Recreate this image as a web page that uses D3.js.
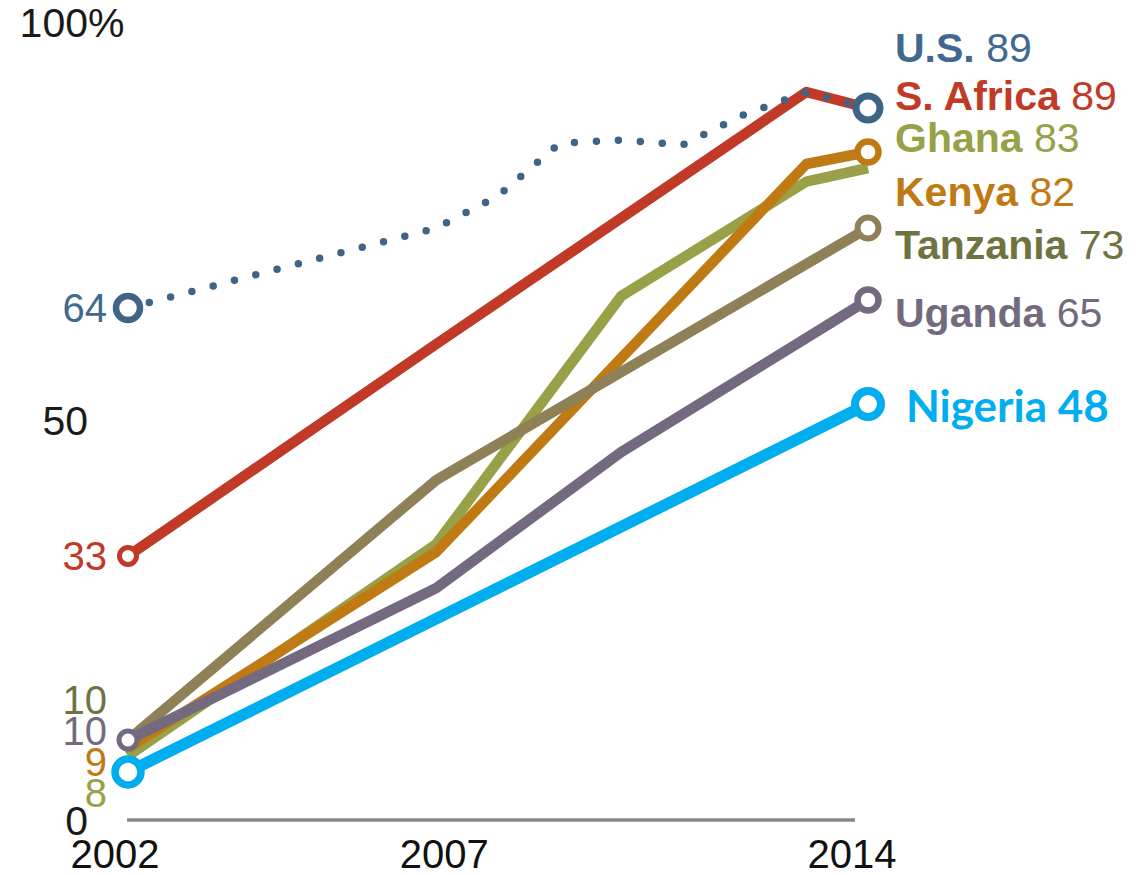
<!DOCTYPE html>
<html><head><meta charset="utf-8">
<script src="https://cdn.jsdelivr.net/npm/d3@7"></script>
<style>html,body{margin:0;padding:0;background:#fff;} svg{display:block}</style>
</head><body>
<svg id="chart" width="1142" height="875"></svg>
<script>
// ---- data ----
const years = [2002, 2007, 2008, 2009, 2010, 2011, 2012, 2013, 2014];
const countries = ["S. Africa", "Ghana", "Kenya", "Tanzania", "Uganda", "U.S.", "Nigeria"];
const southAfricaValues = [33, 59.5, null, null, null, null, null, 91, 89];
const ghanaValues       = [8, 34.5, null, null, 65.5, null, null, 79.8, 81.5];
const kenyaValues       = [9, 33.5, null, null, null, null, null, 82, 83.5];
const tanzaniaValues    = [10, 42.5, null, null, null, null, null, null, 74];
const ugandaValues      = [10, 29, null, null, 46, null, null, null, 65];
const usValues          = [64, 74, 78, 84.6, 85, 84.4, 88.2, 91, 89];
const nigeriaValues     = [6, null, null, null, null, null, null, null, 52];
const startLabels = ["33", "8", "9", "10", "10", "64", null];
const endLabels   = ["89", "83", "82", "73", "65", "89", "48"];
const xTicks = [2002, 2007, 2014];
const yTicks = [0, 50, 100];

// ---- layout / style (not data) ----
const endLabelAt = {"U.S.": 96.6, "S. Africa": 90.6, "Ghana": 85.4, "Kenya": 78.6, "Tanzania": 72, "Uganda": 63.5, "Nigeria": 51.75};
const xTickNudge = {2002: -13, 2007: 8, 2014: -16};
const style = {
  "S. Africa": {line: "#c13a28", text: "#c13a28", w: 10.5},
  "Ghana":     {line: "#98a048", text: "#98a048", w: 10.5},
  "Kenya":     {line: "#c07a14", text: "#c07a14", w: 10.5},
  "Tanzania":  {line: "#8e8158", text: "#6f7340", w: 10.5},
  "Uganda":    {line: "#736a80", text: "#736a80", w: 10.5},
  "U.S.":      {line: "#3e6585", text: "#41698d", w: 7.5, dotted: true},
  "Nigeria":   {line: "#00aeef", text: "#00aeef", w: 11.5}
};
const startMarker = {"S. Africa": [8.5, 5], "Uganda": [9, 5], "U.S.": [12, 6.5], "Nigeria": [13, 7.5]};
const endMarker = {"U.S.": [12, 7], "Kenya": [10.5, 6.5], "Tanzania": [10.5, 6], "Uganda": [10.5, 6.5], "Nigeria": [13, 8]};

const valuesByCountry = [southAfricaValues, ghanaValues, kenyaValues, tanzaniaValues, ugandaValues, usValues, nigeriaValues];
const series = countries.map((c, i) => ({
  name: c,
  points: years.map((yr, j) => ({year: yr, value: valuesByCountry[i][j]})).filter(p => p.value != null),
  start: startLabels[i],
  end: endLabels[i]
}));

const svg = d3.select("#chart");
const x = d3.scaleLinear().domain([2002, 2014]).range([128, 868]);
const y = d3.scaleLinear().domain([0, 100]).range([820, 20]);
const FONT = "'Liberation Sans', Arial, sans-serif";

// axis line
svg.append("line")
  .attr("x1", x(2002) - 1).attr("x2", x(2014) - 13)
  .attr("y1", y(0)).attr("y2", y(0))
  .attr("stroke", "#888").attr("stroke-width", 3.5);

// x tick labels
svg.selectAll("text.xt").data(xTicks).join("text")
  .attr("class", "xt")
  .attr("x", d => x(d) + xTickNudge[d]).attr("y", y(0) + 48)
  .attr("text-anchor", "middle")
  .attr("font-family", FONT).attr("font-size", 40).attr("fill", "#111")
  .text(d => d);

// y tick labels
const yLabelX = 88;
svg.selectAll("text.yt").data(yTicks).join("text")
  .attr("class", "yt")
  .attr("x", yLabelX).attr("y", d => y(d) + (d === 100 ? 2 : 0)).attr("dy", "0.36em")
  .attr("text-anchor", "end")
  .attr("font-family", FONT).attr("font-size", 41).attr("fill", "#1a1a1a")
  .text(d => d);
svg.append("text")
  .attr("x", yLabelX).attr("y", y(yTicks[yTicks.length - 1]) + 2).attr("dy", "0.36em")
  .attr("font-family", FONT).attr("font-size", 41).attr("fill", "#1a1a1a")
  .text("%");

// lines
const line = d3.line().x(d => x(d.year)).y(d => y(d.value));
svg.selectAll("path.series").data(series).join("path")
  .attr("class", "series")
  .attr("d", d => line(d.points))
  .attr("fill", "none")
  .attr("stroke", d => style[d.name].line)
  .attr("stroke-width", d => style[d.name].w)
  .attr("stroke-linejoin", "round")
  .attr("stroke-linecap", d => style[d.name].dotted ? "round" : "butt")
  .attr("stroke-dasharray", d => style[d.name].dotted ? "0 22" : null);

// markers
series.forEach(s => {
  const first = s.points[0], last = s.points[s.points.length - 1];
  if (startMarker[s.name]) {
    svg.append("circle").attr("cx", x(first.year)).attr("cy", y(first.value))
      .attr("r", startMarker[s.name][0]).attr("fill", "#fff")
      .attr("stroke", style[s.name].line).attr("stroke-width", startMarker[s.name][1]);
  }
  if (endMarker[s.name]) {
    svg.append("circle").attr("cx", x(last.year)).attr("cy", y(last.value))
      .attr("r", endMarker[s.name][0]).attr("fill", "#fff")
      .attr("stroke", style[s.name].line).attr("stroke-width", endMarker[s.name][1]);
  }
});

// start labels with dodge
function dodge(items, gap) {
  let clusters = items.map(d => ({items: [d], mean: d.target}));
  let merged = true;
  while (merged) {
    merged = false;
    for (let i = 0; i < clusters.length - 1; i++) {
      const a = clusters[i], b = clusters[i + 1];
      const aBottom = a.mean + (a.items.length - 1) * gap / 2;
      const bTop = b.mean - (b.items.length - 1) * gap / 2;
      if (bTop - aBottom < gap) {
        const its = a.items.concat(b.items);
        clusters.splice(i, 2, {items: its, mean: d3.mean(its, d => d.target)});
        merged = true; break;
      }
    }
  }
  clusters.forEach(c => c.items.forEach((d, j) => d.pos = c.mean + (j - (c.items.length - 1) / 2) * gap));
  return items;
}
const startItems = series.filter(s => s.start != null)
  .map(s => ({s, target: y(+s.start)}))
  .sort((a, b) => d3.ascending(a.target, b.target) || d3.ascending(countries.indexOf(a.s.name), countries.indexOf(b.s.name)));
dodge(startItems, 31);
svg.selectAll("text.sl").data(startItems).join("text")
  .attr("class", "sl")
  .attr("x", x(2002) - 21).attr("y", d => d.pos).attr("dy", "0.36em")
  .attr("text-anchor", "end")
  .attr("font-family", FONT).attr("font-size", 40)
  .attr("fill", d => style[d.s.name].text)
  .text(d => d.s.start);

// end labels
series.forEach(s => {
  const isNg = s.name === "Nigeria";
  const t = svg.append("text")
    .attr("x", x(2014) + (isNg ? 38 : 27))
    .attr("y", y(endLabelAt[s.name])).attr("dy", "0.36em")
    .attr("font-family", isNg ? "Lato, 'Open Sans', sans-serif" : FONT)
    .attr("font-size", isNg ? 44 : 41)
    .attr("fill", style[s.name].text);
  t.append("tspan").attr("font-weight", "bold").text(s.name);
  t.append("tspan").attr("font-weight", isNg ? "bold" : "normal").text(" " + s.end);
});
</script>
</body></html>
